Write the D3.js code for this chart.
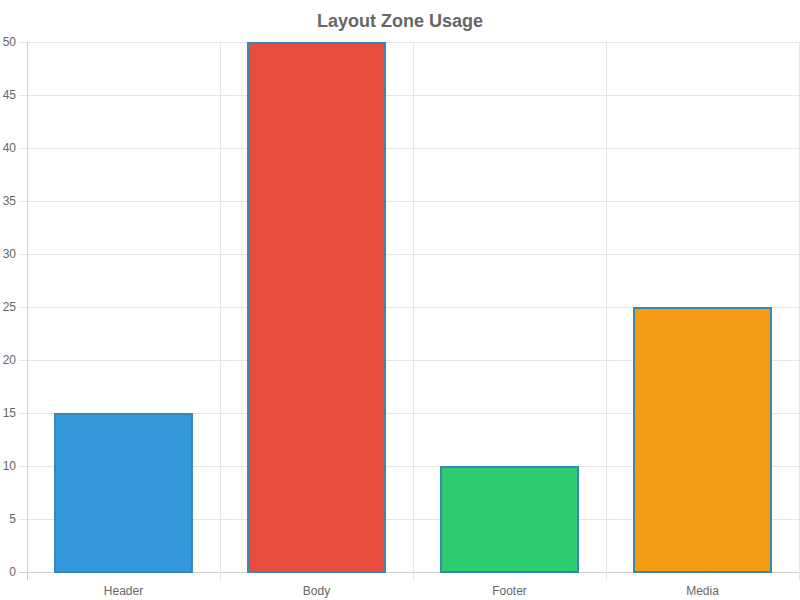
<!DOCTYPE html>
<html>
<head>
<meta charset="utf-8">
<script src="https://cdn.jsdelivr.net/npm/d3@7/dist/d3.min.js"></script>
<style>
  body { margin: 0; background: #fff; }
  svg text { font-family: "Liberation Sans", Arial, Helvetica, sans-serif; }
</style>
</head>
<body>
<svg id="chart" width="800" height="600"></svg>
<script>
// chart data
const categories = ['Header', 'Body', 'Footer', 'Media'];
const usage = [15, 50, 10, 25];
const barColors = ['#3498db', '#e74c3c', '#2ecc71', '#f39c12'];
const yTicks = [0, 5, 10, 15, 20, 25, 30, 35, 40, 45, 50];

const margin = {top: 42, right: 1, bottom: 28, left: 27},
  width = 800 - margin.left - margin.right,
  height = 600 - margin.top - margin.bottom;

const svg = d3.select('#chart');

// title
svg.append('text')
  .attr('x', 400)
  .attr('y', 27)
  .attr('text-anchor', 'middle')
  .style('font-size', '18px')
  .style('font-weight', 'bold')
  .style('fill', '#666')
  .text('Layout Zone Usage');

const g = svg.append('g')
  .attr('transform', 'translate(' + margin.left + ',' + margin.top + ')');

const x = d3.scaleBand().domain(categories).range([0, width]);
const y = d3.scaleLinear().domain([0, 50]).range([height, 0]);

// horizontal grid + y tick marks
g.selectAll('line.hgrid')
  .data(yTicks)
  .enter().append('line')
  .attr('class', 'hgrid')
  .attr('x1', -8)
  .attr('x2', width)
  .attr('y1', d => Math.round(y(d)) + 0.5)
  .attr('y2', d => Math.round(y(d)) + 0.5)
  .style('stroke', d => d === 0 ? '#cfcfcf' : '#e5e5e5')
  .style('stroke-width', 1);

// vertical grid at category edges
const edges = categories.map(c => x(c)).concat([width]);
g.selectAll('line.vgrid')
  .data(edges)
  .enter().append('line')
  .attr('class', 'vgrid')
  .attr('x1', d => Math.round(d) + 0.5)
  .attr('x2', d => Math.round(d) + 0.5)
  .attr('y1', 0)
  .attr('y2', height + 8)
  .style('stroke', (d, i) => i === 0 ? '#cfcfcf' : '#e5e5e5')
  .style('stroke-width', 1);

// y labels
g.selectAll('text.ylab')
  .data(yTicks)
  .enter().append('text')
  .attr('class', 'ylab')
  .attr('x', -11)
  .attr('y', d => y(d))
  .attr('dy', '0.35em')
  .attr('text-anchor', 'end')
  .style('font-size', '12px')
  .style('fill', '#666')
  .text(d => d);

// x labels
g.selectAll('text.xlab')
  .data(categories)
  .enter().append('text')
  .attr('class', 'xlab')
  .attr('x', d => x(d) + x.bandwidth() / 2)
  .attr('y', height + 19)
  .attr('dy', '0.35em')
  .attr('text-anchor', 'middle')
  .style('font-size', '12px')
  .style('fill', '#666')
  .text(d => d);

// bars (72% of the category width, like bar 0.9 * category 0.8)
const barW = x.bandwidth() * 0.72;
g.selectAll('rect.bar')
  .data(usage)
  .enter().append('rect')
  .attr('class', 'bar')
  .attr('x', (d, i) => x(categories[i]) + (x.bandwidth() - barW) / 2 + 1)
  .attr('y', d => y(d) + 1)
  .attr('width', barW - 2)
  .attr('height', d => height - y(d) - 1)
  .style('fill', (d, i) => barColors[i])
  .style('stroke', '#3589b0')
  .style('stroke-width', 2);
</script>
</body>
</html>
